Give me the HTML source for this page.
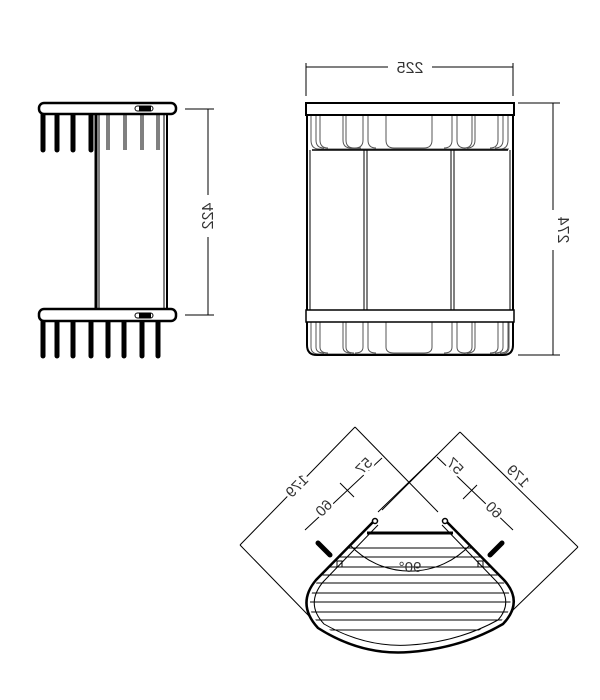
<!DOCTYPE html>
<html><head><style>html,body{margin:0;padding:0;background:#fff;}svg{display:block}</style></head>
<body>
<svg width="600" height="700" viewBox="0 0 600 700" xmlns="http://www.w3.org/2000/svg" font-family="Liberation Sans, sans-serif">
<rect width="600" height="700" fill="#fff"/>
<!-- LEFT SIDE VIEW -->
<g stroke="#000" fill="none">
  <g stroke-width="5" stroke-linecap="round">
    <line x1="43" y1="114" x2="43" y2="150"/><line x1="57" y1="114" x2="57" y2="150"/>
    <line x1="73" y1="114" x2="73" y2="150"/><line x1="91" y1="114" x2="91" y2="150"/>
    <line x1="43" y1="321" x2="43" y2="356"/><line x1="57" y1="321" x2="57" y2="356"/>
    <line x1="73" y1="321" x2="73" y2="356"/><line x1="91" y1="321" x2="91" y2="356"/>
    <line x1="108" y1="321" x2="108" y2="356"/><line x1="124" y1="321" x2="124" y2="356"/>
    <line x1="142" y1="321" x2="142" y2="356"/><line x1="158" y1="321" x2="158" y2="356"/>
  </g>
  <g stroke-width="1">
    <line x1="107" y1="114" x2="107" y2="150"/><line x1="109" y1="114" x2="109" y2="150"/>
    <line x1="124" y1="114" x2="124" y2="150"/><line x1="126" y1="114" x2="126" y2="150"/>
    <line x1="141" y1="114" x2="141" y2="150"/><line x1="143" y1="114" x2="143" y2="150"/>
    <line x1="157" y1="114" x2="157" y2="150"/><line x1="159" y1="114" x2="159" y2="150"/>
  </g>
  <line x1="96" y1="114" x2="96" y2="309" stroke-width="3"/>
  <line x1="99" y1="114" x2="99" y2="309" stroke-width="1"/>
  <line x1="164" y1="114" x2="164" y2="309" stroke-width="1"/>
  <line x1="167" y1="114" x2="167" y2="309" stroke-width="2"/>
  <rect x="39" y="103" width="137" height="11" rx="5" stroke-width="2.5" fill="#fff"/>
  <rect x="39" y="309" width="137" height="12" rx="5" stroke-width="2.5" fill="#fff"/>
  <rect x="135" y="106" width="18" height="5" rx="2.5" stroke-width="1"/>
  <rect x="139" y="106" width="12" height="5" fill="#000" stroke="none"/>
  <rect x="135" y="313" width="18" height="5" rx="2.5" stroke-width="1"/>
  <rect x="139" y="313" width="12" height="5" fill="#000" stroke="none"/>
  <g stroke-width="1">
    <line x1="208" y1="109" x2="208" y2="195"/><line x1="208" y1="237" x2="208" y2="315"/>
    <line x1="185" y1="109" x2="214" y2="109"/><line x1="185" y1="315" x2="214" y2="315"/>
  </g>
</g>
<text transform="translate(208,216) rotate(90) scale(1,-1)" dy="5" font-size="16" text-anchor="middle" fill="#333">422</text>

<!-- FRONT VIEW -->
<g stroke="#000" fill="none">
  <line x1="306" y1="63" x2="306" y2="96" stroke-width="1"/><line x1="513" y1="63" x2="513" y2="96" stroke-width="1"/>
  <line x1="306" y1="67" x2="388" y2="67" stroke-width="1"/><line x1="432" y1="67" x2="513" y2="67" stroke-width="1"/>
  <line x1="518" y1="103" x2="560" y2="103" stroke-width="1"/><line x1="518" y1="355" x2="560" y2="355" stroke-width="1"/>
  <line x1="553" y1="103" x2="553" y2="210" stroke-width="1"/><line x1="553" y1="250" x2="553" y2="355" stroke-width="1"/>
  <g stroke="#555" stroke-width="1">
    <path d="M311,115 v25 q0,9 8,9 h190"/><path d="M316,115 v25 q0,8 8,8"/><path d="M320,115 v25 q0,8 8,8"/>
    <path d="M343,115 v25 q0,8 8,8 h10"/><path d="M346,115 v25 q0,8 8,8"/>
    <path d="M363,115 v25 q0,8 -8,8"/><path d="M368,115 v25 q0,8 8,8"/>
    <path d="M386,115 v25 q0,8 8,8 h30 q8,0 8,-8 v-25"/>
    <path d="M452,115 v25 q0,8 -8,8"/><path d="M457,115 v25 q0,8 8,8"/>
    <path d="M472,115 v25 q0,8 -8,8"/><path d="M475,115 v25 q0,8 -8,8"/>
    <path d="M498,115 v25 q0,8 -8,8"/><path d="M503,115 v25 q0,8 -8,8"/><path d="M508,115 v25 q0,9 -8,9"/>
    <path d="M311,322 v25 q0,7 8,7 h182 q8,0 8,-7 v-25"/><path d="M316,322 v25 q0,6 8,6"/><path d="M320,322 v25 q0,6 8,6"/>
    <path d="M343,322 v25 q0,6 8,6"/><path d="M346,322 v25 q0,6 8,6"/>
    <path d="M363,322 v25 q0,6 -8,6"/><path d="M368,322 v25 q0,6 8,6"/>
    <path d="M386,322 v25 q0,6 8,6 h30 q8,0 8,-6 v-25"/>
    <path d="M452,322 v25 q0,6 -8,6"/><path d="M457,322 v25 q0,6 8,6"/>
    <path d="M472,322 v25 q0,6 -8,6"/><path d="M475,322 v25 q0,6 -8,6"/>
    <path d="M498,322 v25 q0,6 -8,6"/><path d="M503,322 v25 q0,6 -8,6"/><path d="M508,322 v25 q0,6 -8,6"/>
  </g>
  <line x1="312" y1="150" x2="508" y2="150" stroke-width="1.5"/>
  <line x1="310" y1="150" x2="310" y2="310" stroke-width="1"/><line x1="510" y1="150" x2="510" y2="310" stroke-width="1"/>
  <line x1="364" y1="150" x2="364" y2="310" stroke-width="1"/><line x1="367" y1="150" x2="367" y2="310" stroke-width="1"/>
  <line x1="451" y1="150" x2="451" y2="310" stroke-width="1"/><line x1="454" y1="150" x2="454" y2="310" stroke-width="1"/>
  <path d="M307,103 V345 q0,10 10,10 h186 q10,0 10,-10 V103" stroke-width="2"/>
  <rect x="306" y="103" width="208" height="12" stroke-width="2" fill="#fff"/>
  <rect x="306" y="310" width="208" height="12" stroke-width="1.5" fill="#fff"/>
</g>
<text transform="translate(410,73) scale(-1,1)" font-size="16" text-anchor="middle" fill="#333">225</text>
<text transform="translate(553,230) rotate(-90) scale(1,-1)" dy="-5" font-size="16" text-anchor="middle" fill="#333">274</text>

<!-- PLAN VIEW -->
<g stroke="#000" fill="none" stroke-width="1">
  <line x1="355" y1="427" x2="438" y2="512"/>
  <line x1="437" y1="455" x2="378" y2="512"/>
  <line x1="460" y1="432" x2="382" y2="510"/>
  <line x1="355" y1="427" x2="240" y2="545"/>
  <line x1="460" y1="432" x2="578" y2="547"/>
  <line x1="240" y1="545" x2="310" y2="617"/>
  <line x1="578" y1="547" x2="513" y2="610"/>
  <line x1="382" y1="458" x2="305" y2="530"/>
  <line x1="437" y1="457" x2="513" y2="530"/>
  <line x1="340" y1="483" x2="354" y2="497"/>
  <line x1="477" y1="485" x2="463" y2="499"/>
  <path d="M350,545 A82,82 0 0 0 470,545"/>
</g>
<defs><clipPath id="inner"><path d="M372,522 L318,580 Q300,610 322,626 Q370,652 410,646 Q460,640 500,622 Q520,605 502,580 L448,522 Z"/></clipPath></defs>
<g clip-path="url(#inner)" stroke="#000" stroke-width="1">
  <line x1="300" y1="548" x2="520" y2="548"/><line x1="300" y1="557" x2="520" y2="557"/>
  <line x1="300" y1="567" x2="520" y2="567"/><line x1="300" y1="575" x2="520" y2="575"/>
  <line x1="300" y1="583" x2="520" y2="583"/><line x1="300" y1="593" x2="520" y2="593"/>
  <line x1="300" y1="602" x2="520" y2="602"/><line x1="300" y1="612" x2="520" y2="612"/>
  <line x1="300" y1="620" x2="520" y2="620"/><line x1="300" y1="630" x2="520" y2="630"/>
</g>
<g stroke="#000" fill="none">
  <path d="M375,520 L316,580 Q296,604 318,628 Q362,656 410,652 Q462,648 503,624 Q524,602 504,580 L445,520" stroke-width="2.5"/>
  <path d="M378,525 L323,582 Q305,604 324,624 Q366,648 410,645 Q458,642 498,620 Q514,602 497,582 L442,525" stroke-width="1"/>
  <line x1="376" y1="520" x2="323" y2="573" stroke-width="1"/>
  <line x1="444" y1="520" x2="497" y2="573" stroke-width="1"/>
  <line x1="367" y1="533" x2="453" y2="533" stroke-width="3"/>
  <circle cx="375" cy="521" r="2.5" stroke-width="1.5" fill="#fff"/>
  <circle cx="445" cy="521" r="2.5" stroke-width="1.5" fill="#fff"/>
  <line x1="318" y1="543" x2="330" y2="555" stroke-width="5" stroke-linecap="round"/>
  <line x1="502" y1="543" x2="490" y2="555" stroke-width="5" stroke-linecap="round"/>
  <rect x="337" y="561" width="5" height="6" stroke-width="1"/>
  <rect x="478" y="561" width="5" height="6" stroke-width="1"/>
</g>
<g font-size="15" fill="#333" text-anchor="middle" stroke="#fff" stroke-width="5" paint-order="stroke">
  <text transform="translate(297,486) rotate(-45) scale(-1,1)" dy="5">179</text>
  <text transform="translate(364,466) rotate(-45) scale(-1,1)" dy="5">57</text>
  <text transform="translate(324,508) rotate(-45) scale(-1,1)" dy="5">60</text>
  <text transform="translate(455,466) rotate(45) scale(-1,1)" dy="5">57</text>
  <text transform="translate(494,510) rotate(45) scale(-1,1)" dy="5">60</text>
  <text transform="translate(518,476) rotate(45) scale(-1,1)" dy="5">179</text>
</g>
<text transform="translate(410,572) scale(-1,1)" font-size="15" fill="#333" text-anchor="middle">90°</text>
</svg>
</body></html>
